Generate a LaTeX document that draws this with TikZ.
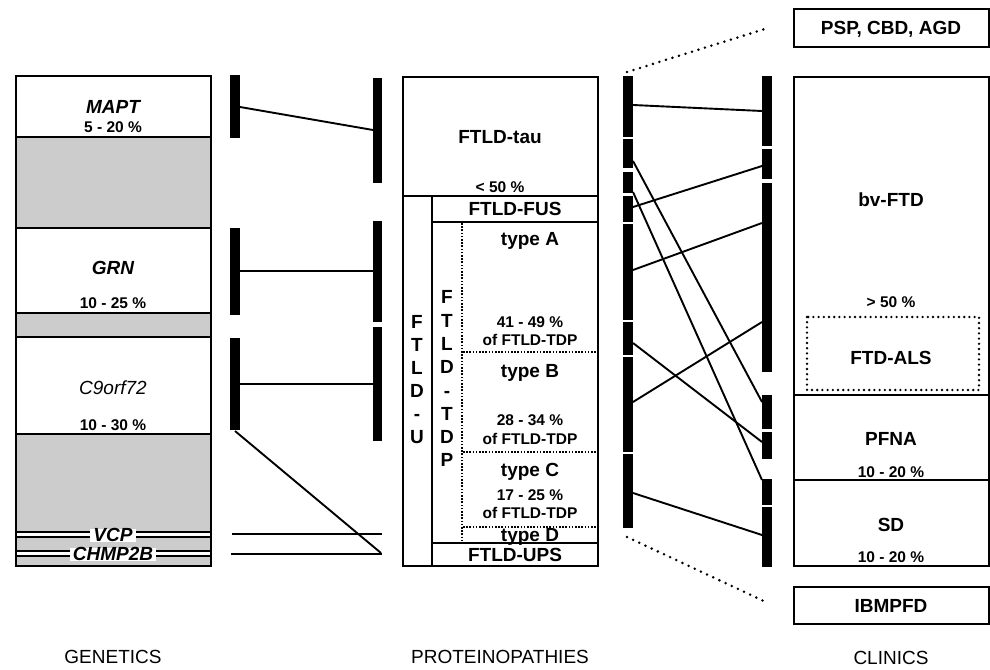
\documentclass[tikz,border=0pt]{standalone}
\usepackage{fontspec}
\setmainfont{Liberation Sans}
\definecolor{fillgray}{HTML}{CCCCCC}
\newcommand\myBig{\fontsize{19}{19}\selectfont\bfseries}
\newcommand\myBigIt{\fontsize{19}{19}\selectfont\bfseries\itshape}
\newcommand\myIt{\fontsize{19}{19}\selectfont\itshape}
\newcommand\mySmall{\fontsize{15.5}{15.5}\selectfont\bfseries}
\newcommand\myReg{\fontsize{19}{19}\selectfont}
\tikzset{
  frame/.style={draw=black, line width=2pt},
  thinframe/.style={draw=black, line width=1.4pt},
  conn/.style={draw=black, line width=1.9pt},
  barseg/.style={fill=black},
  dotline/.style={draw=black, line width=2.8pt, dash pattern=on 0pt off 6.8pt, line cap=round},
  boxdot/.style={draw=black, line width=2.6pt, dash pattern=on 0pt off 5.2pt, line cap=round},
  finedot/.style={draw=black, line width=1.6pt, dash pattern=on 1.5pt off 1.7pt},
  big/.style={font=\myBig, inner sep=0pt, anchor=base, yshift=-6.8pt},
  bigit/.style={font=\myBigIt, inner sep=0pt, anchor=base, yshift=-6.8pt},
  regit/.style={font=\myIt, inner sep=0pt, anchor=base, yshift=-6.8pt},
  small/.style={font=\mySmall, inner sep=0pt, anchor=base, yshift=-5.5pt},
  title/.style={font=\myReg, inner sep=0pt, anchor=base, yshift=-6.8pt},
  genelbl/.style={font=\myBigIt, fill=white, inner xsep=3pt, inner ysep=0pt, anchor=base, yshift=-6.8pt}
}
\begin{document}
\begin{tikzpicture}[x=1pt,y=-1pt]
\useasboundingbox (0,0) rectangle (990,669);

% ---------------- GENETICS column ----------------
\fill[fillgray] (16,76) rectangle (211,566);
\fill[white] (16,76) rectangle (211,137);
\fill[white] (16,228) rectangle (211,313);
\fill[white] (16,337) rectangle (211,434);
\draw[frame] (16,137) -- (211,137);
\draw[frame] (16,228) -- (211,228);
\draw[frame] (16,313) -- (211,313);
\draw[frame] (16,337) -- (211,337);
\draw[frame] (16,434) -- (211,434);
\fill[white] (16,532) rectangle (211,537);
\fill[white] (16,551) rectangle (211,556);
\draw[thinframe] (16,532) -- (211,532);
\draw[thinframe] (16,537) -- (211,537);
\draw[thinframe] (16,551) -- (211,551);
\draw[thinframe] (16,556) -- (211,556);
\draw[frame] (16,76) rectangle (211,566);

\node[bigit] (mapt) at (113,107) {MAPT};
\node[small] (maptp) at (113,127) {5 - 20 \%};
\node[bigit] (grn) at (113,268) {GRN};
\node[small] (grnp) at (113,303) {10 - 25 \%};
\node[regit] (c9) at (113,388) {C9orf72};
\node[small] (c9p) at (113,425) {10 - 30 \%};
\node[genelbl] (vcp) at (113,535) {VCP};
\node[genelbl] (chmp) at (113,554) {CHMP2B};

% genetics bars
\fill[barseg] (230,75) rectangle (240,138);
\fill[barseg] (230,228) rectangle (240,315);
\fill[barseg] (230,338) rectangle (240,430);
\fill[barseg] (373,78) rectangle (382,183);
\fill[barseg] (373,221) rectangle (382,322);
\fill[barseg] (373,327) rectangle (382,441);

\coordinate (g1a) at (240,107);  \coordinate (g1b) at (373,130);
\coordinate (g2a) at (240,271);  \coordinate (g2b) at (373,271);
\coordinate (g3a) at (240,384);  \coordinate (g3b) at (373,384);
\coordinate (g4a) at (235,431);  \coordinate (g4b) at (381,553);
\coordinate (g5a) at (232,534);  \coordinate (g5b) at (382,534);
\coordinate (g6a) at (231,554);  \coordinate (g6b) at (382,554);
\draw[conn] (g1a) -- (g1b);
\draw[conn] (g2a) -- (g2b);
\draw[conn] (g3a) -- (g3b);
\draw[conn] (g4a) -- (g4b);
\draw[conn] (g5a) -- (g5b);
\draw[conn] (g6a) -- (g6b);

% ---------------- PROTEINOPATHIES column ----------------
\draw[frame] (403,77) rectangle (598,566);
\draw[frame] (403,196) -- (598,196);
\draw[frame] (432,196) -- (432,566);
\draw[frame] (432,222) -- (598,222);
\draw[frame] (432,543) -- (598,543);
\draw[finedot] (462,223) -- (462,542);
\draw[finedot] (463,352) -- (597,352);
\draw[finedot] (463,452) -- (597,452);
\draw[finedot] (463,527) -- (597,527);

\node[big] (tau) at (500,137) {FTLD-tau};
\node[small] (taup) at (500,187) {< 50 \%};
\node[big] (fus) at (515,209) {FTLD-FUS};
\node[big] (ta) at (530,239) {type A};
\node[small] (tap) at (530,322) {41 - 49 \%};
\node[small] (tao) at (530,340) {of FTLD-TDP};
\node[big] (tb) at (530,371) {type B};
\node[small] (tbp) at (530,420) {28 - 34 \%};
\node[small] (tbo) at (530,439) {of FTLD-TDP};
\node[big] (tc) at (530,470) {type C};
\node[small] (tcp) at (530,495) {17 - 25 \%};
\node[small] (tco) at (530,513) {of FTLD-TDP};
\node[big] (td) at (530,535) {type D};
\node[big] (ups) at (515,555) {FTLD-UPS};

\foreach \l [count=\i] in {F,T,L,D,-,U}
  \node[big] (u\i) at (417,{322+23*(\i-1)}) {\l};
\foreach \l [count=\i] in {F,T,L,D,-,T,D,P}
  \node[big] (tdp\i) at (447,{297+23.3*(\i-1)}) {\l};

% ---------------- protein -> clinic bars ----------------
\fill[barseg] (623,76) rectangle (633,137);
\fill[barseg] (623,139) rectangle (633,168);
\fill[barseg] (623,172) rectangle (633,193);
\fill[barseg] (623,196) rectangle (633,222);
\fill[barseg] (623,224) rectangle (633,320);
\fill[barseg] (623,322) rectangle (633,355);
\fill[barseg] (623,357) rectangle (633,452);
\fill[barseg] (623,454) rectangle (633,528);

\fill[barseg] (762,76) rectangle (772,146);
\fill[barseg] (762,149) rectangle (772,179);
\fill[barseg] (762,183) rectangle (772,372);
\fill[barseg] (762,395) rectangle (772,429);
\fill[barseg] (762,432) rectangle (772,459);
\fill[barseg] (762,479) rectangle (772,505);
\fill[barseg] (762,507) rectangle (772,567);

\coordinate (p1a) at (633,105);  \coordinate (p1b) at (762,111);
\coordinate (p2a) at (633,161);  \coordinate (p2b) at (762,402);
\coordinate (p3a) at (633,192);  \coordinate (p3b) at (762,480);
\coordinate (p4a) at (633,207);  \coordinate (p4b) at (762,166);
\coordinate (p5a) at (633,270);  \coordinate (p5b) at (762,223);
\coordinate (p6a) at (633,343);  \coordinate (p6b) at (762,442);
\coordinate (p7a) at (633,402);  \coordinate (p7b) at (762,322);
\coordinate (p8a) at (633,493);  \coordinate (p8b) at (762,535);
\foreach \k in {1,...,8} \draw[conn] (p\k a) -- (p\k b);

\coordinate (dt1) at (627,72);  \coordinate (dt2) at (768,28);
\coordinate (db1) at (627,537); \coordinate (db2) at (768,603);
\draw[dotline] (dt1) -- (dt2);
\draw[dotline] (db1) -- (db2);

% ---------------- CLINICS column ----------------
\draw[frame] (794,9) rectangle (989,47);
\draw[frame] (794,77) rectangle (989,566);
\draw[frame] (794,395) -- (989,395);
\draw[frame] (794,480) -- (989,480);
\draw[frame] (794,587) rectangle (989,624);
\draw[boxdot] (807,317) rectangle (979,390);

\node[big] (psp) at (891,28) {PSP, CBD, AGD};
\node[big] (bv) at (891,200) {bv-FTD};
\node[small] (bvp) at (891,302) {> 50 \%};
\node[big] (als) at (891,358) {FTD-ALS};
\node[big] (pfna) at (891,439) {PFNA};
\node[small] (pfnap) at (891,472) {10 - 20 \%};
\node[big] (sd) at (891,525) {SD};
\node[small] (sdp) at (891,557) {10 - 20 \%};
\node[big] (ibm) at (891,606) {IBMPFD};

% ---------------- titles ----------------
\node[title] (tgen) at (113,657) {GENETICS};
\node[title] (tpro) at (500,657) {PROTEINOPATHIES};
\node[title] (tcli) at (891,658) {CLINICS};
\end{tikzpicture}
\end{document}
